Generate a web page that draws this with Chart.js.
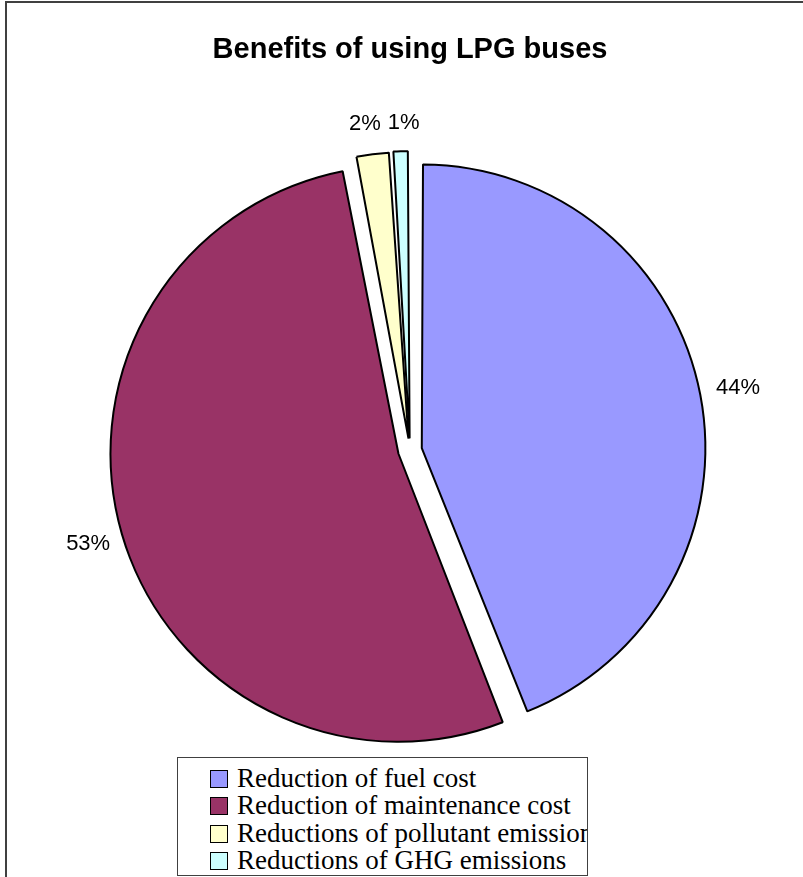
<!DOCTYPE html>
<html>
<head>
<meta charset="utf-8">
<script src="https://cdn.jsdelivr.net/npm/chart.js@4/dist/chart.umd.min.js"></script>
<style>
  body { margin: 0; background: #fff; }
  #wrap { position: relative; width: 803px; height: 877px; overflow: hidden; }
  #frame { position: absolute; left: 5px; top: 1px; width: 820px; height: 900px;
           border-left: 2px solid #404040; border-top: 2px solid #404040; }
  #legend { position: absolute; left: 177px; top: 757px; width: 411px; height: 119px;
            border: 1px solid #404040; background: #fff; box-sizing: border-box;
            overflow: hidden;
            font-family: "Liberation Serif", "Times New Roman", serif; font-size: 27px;
            padding: 7px 0 0 32px; }
  #legend div { height: 27.3px; line-height: 27.3px; white-space: nowrap; }
  #legend span { display: inline-block; width: 16px; height: 16px; border: 1px solid #000;
                 margin-right: 9px; vertical-align: -1px; }
  canvas { position: absolute; left: 0; top: 0; }
</style>
</head>
<body>
<div id="wrap">
  <div id="frame"></div>
  <canvas id="pieChart" width="803" height="877"></canvas>
  <div id="legend"></div>
</div>
<script>
// benefit categories and their shares (%)
const labels = [
  'Reduction of fuel cost',
  'Reduction of maintenance cost',
  'Reductions of pollutant emissions',
  'Reductions of GHG emissions'
];
const shares = [44, 53, 2, 1];
const colors = ['#9999FF', '#993366', '#FFFFCC', '#CCFFFF'];

// chart.js v4 moves an arc by offset/4 and grows it by offset/4
const sliceOffset = 48;

// percent labels outside each slice
const outsideLabels = {
  id: 'outsideLabels',
  afterDatasetsDraw(chart) {
    const ctx = chart.ctx;
    const meta = chart.getDatasetMeta(0);
    const total = shares.reduce((a, b) => a + b, 0);
    const gap = 9;
    const h = 36;
    ctx.save();
    ctx.font = '22px "Liberation Sans", Arial, sans-serif';
    ctx.fillStyle = '#000';
    ctx.textAlign = 'center';
    ctx.textBaseline = 'middle';

    const items = meta.data.map((arc, i) => {
      const p = arc.getProps(['x', 'y', 'startAngle', 'endAngle', 'outerRadius']);
      const mid = (p.startAngle + p.endAngle) / 2;
      const cos = Math.cos(mid), sin = Math.sin(mid);
      const text = Math.round(shares[i] / total * 100) + '%';
      const w = ctx.measureText(text).width;
      const edge = p.outerRadius + arc.options.offset / 2;
      const d = edge + gap + Math.abs(cos) * w / 2 + Math.abs(sin) * h / 2;
      return { text, w, x: p.x + cos * d, y: p.y + sin * d };
    });

    // push apart neighbouring labels that collide (small slices at the top)
    for (let i = 1; i < items.length; i++) {
      const a = items[i - 1], b = items[i];
      const need = (a.w + b.w) / 2 + 7;
      const dx = b.x - a.x;
      if (Math.abs(a.y - b.y) < 20 && Math.abs(dx) < need) {
        const push = (need - Math.abs(dx)) / 2 * (dx >= 0 ? 1 : -1);
        a.x -= push;
        b.x += push;
      }
    }

    items.forEach(it => ctx.fillText(it.text, it.x, it.y));
    ctx.restore();
  }
};

const ctx = document.getElementById('pieChart').getContext('2d');
new Chart(ctx, {
  type: 'pie',
  data: {
    labels: labels,
    datasets: [{
      data: shares,
      backgroundColor: colors,
      borderColor: '#000',
      borderWidth: 2,
      offset: sliceOffset,
      clip: false
    }]
  },
  options: {
    responsive: false,
    animation: false,
    radius: 276,
    layout: { padding: { left: 17, right: 0, top: 0, bottom: 55 } },
    plugins: {
      legend: { display: false },
      tooltip: { enabled: false },
      title: {
        display: true,
        text: 'Benefits of using LPG buses',
        color: '#000',
        font: { family: '"Liberation Sans", Arial, sans-serif', size: 29, weight: 'bold' },
        padding: { top: 33, bottom: 11 }
      }
    }
  },
  plugins: [outsideLabels]
});

// legend box under the pie
const legendEl = document.getElementById('legend');
labels.forEach((name, i) => {
  const row = document.createElement('div');
  const box = document.createElement('span');
  box.style.background = colors[i];
  row.appendChild(box);
  row.appendChild(document.createTextNode(name));
  legendEl.appendChild(row);
});
</script>
</body>
</html>
